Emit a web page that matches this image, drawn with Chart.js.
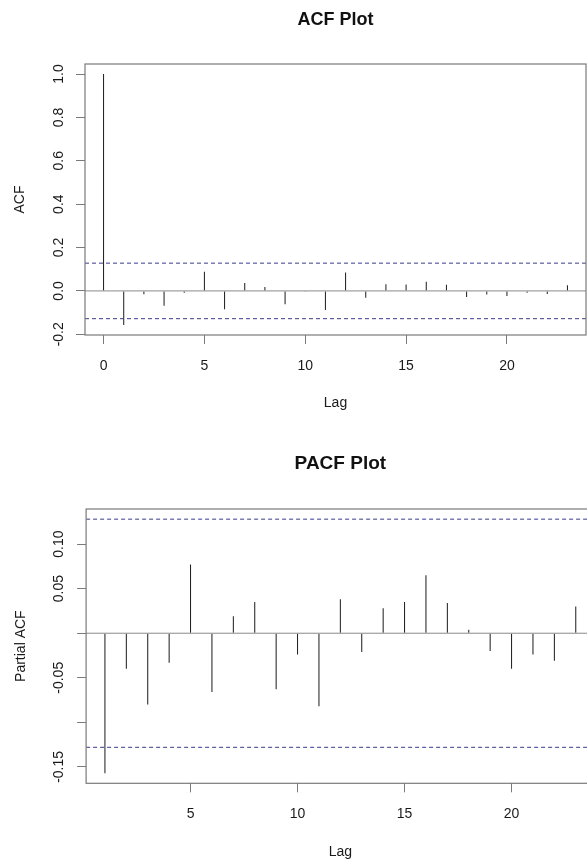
<!DOCTYPE html>
<html><head><meta charset="utf-8">
<script src="https://cdn.jsdelivr.net/npm/chart.js@4.4.1/dist/chart.umd.min.js"></script>
<style>
html,body{margin:0;padding:0;background:#fff;overflow:hidden;width:587px;height:861px;}
#c1{position:absolute;left:0;top:0;}
#c2{position:absolute;left:0;top:430px;}
</style></head><body>
<canvas id="c1" width="587" height="430"></canvas>
<canvas id="c2" width="600" height="431"></canvas>
<script>
// ---- data ----
const acfLags = [0,1,2,3,4,5,6,7,8,9,10,11,12,13,14,15,16,17,18,19,20,21,22,23];
const acfValues = [1.000,-0.157,-0.015,-0.068,-0.009,0.088,-0.085,0.037,0.018,-0.062,-0.002,-0.088,0.085,-0.032,0.031,0.029,0.042,0.028,-0.028,-0.017,-0.023,-0.009,-0.014,0.026];
const pacfLags = [1,2,3,4,5,6,7,8,9,10,11,12,13,14,15,16,17,18,19,20,21,22,23];
const pacfValues = [-0.157,-0.040,-0.080,-0.033,0.077,-0.066,0.019,0.035,-0.063,-0.024,-0.082,0.038,-0.021,0.028,0.035,0.065,0.034,0.004,-0.020,-0.040,-0.024,-0.031,0.030];
const ciBound = 0.128;
const acfXTicks = [0,5,10,15,20];
const acfYTicks = [-0.2,0,0.2,0.4,0.6,0.8,1.0];
const acfYTickLabels = ['-0.2','0.0','0.2','0.4','0.6','0.8','1.0'];
const pacfXTicks = [5,10,15,20];
const pacfYTicks = [-0.15,-0.10,-0.05,0,0.05,0.10];
const pacfYTickLabels = ['-0.15','','-0.05','','0.05','0.10'];

const FONT = '"Liberation Sans", Arial, Helvetica, sans-serif';
const TEXT = '#1a1a1a';
const AXIS = '#7a7a7a';
const CI = '#3a3a8c';

function ext(a, b) { const d = (b - a) * 0.04; return [a - d, b + d]; }

function makePlot(canvas, s) {
  const xr = ext(Math.min(...s.lags), Math.max(...s.lags));
  const yr = ext(Math.min(-ciBound, ...s.values), Math.max(ciBound, ...s.values));
  const framePlugin = {
    id: 'rframe',
    afterDatasetsDraw(chart) {
      const {ctx, chartArea: a} = chart;
      const y = chart.scales.y;
      ctx.save();
      ctx.strokeStyle = AXIS; ctx.lineWidth = 1.2;
      ctx.strokeRect(a.left, a.top, a.right - a.left, a.bottom - a.top);
      ctx.fillStyle = TEXT;
      ctx.font = '14px ' + FONT;
      ctx.textAlign = 'center'; ctx.textBaseline = 'middle';
      s.yTicks.forEach((v, i) => {
        const lab = s.yLabels[i];
        if (!lab) return;
        ctx.save();
        ctx.translate(s.yLabelX, y.getPixelForValue(v));
        ctx.rotate(-Math.PI / 2);
        ctx.fillText(lab, 0, 0);
        ctx.restore();
      });
      ctx.restore();
    }
  };
  return new Chart(canvas, {
    type: 'bar',
    data: {
      datasets: [
        {type:'line', data:[{x:xr[0], y:ciBound},{x:xr[1], y:ciBound}], borderColor:CI, borderWidth:1, borderDash:[4,3], pointRadius:0, fill:false},
        {type:'line', data:[{x:xr[0], y:-ciBound},{x:xr[1], y:-ciBound}], borderColor:CI, borderWidth:1, borderDash:[4,3], pointRadius:0, fill:false},
        {type:'line', data:[{x:xr[0], y:0},{x:xr[1], y:0}], borderColor:'#8a8a8a', borderWidth:1, pointRadius:0, fill:false},
        {type:'bar', data:s.lags.map((l, i) => ({x:l, y:s.values[i]})), backgroundColor:'#1a1a1a', borderWidth:0, barThickness:1, inflateAmount:0, grouped:false}
      ]
    },
    options: {
      responsive:false, animation:false, devicePixelRatio:1,
      layout:{padding:{left:0, right:s.padRight, top:0, bottom:0}},
      plugins:{
        legend:{display:false}, tooltip:{enabled:false},
        title:{display:true, text:s.title, fullSize:false, color:'#111',
          font:{family:FONT, size:s.titleSize, weight:'bold'},
          padding:{top:s.titleTop, bottom:s.titleBottom}}
      },
      scales:{
        x:{
          type:'linear', min:xr[0], max:xr[1], bounds:'data', offset:false,
          afterBuildTicks: sc => { sc.ticks = s.xTicks.map(v => ({value:v})); },
          afterFit: sc => { sc.height = s.xAxisH; },
          grid:{display:true, offset:false, drawOnChartArea:false, drawTicks:true, tickLength:9, color:AXIS, lineWidth:1},
          border:{display:false},
          ticks:{font:{family:FONT, size:14}, color:TEXT, padding:13.8, maxRotation:0, minRotation:0, autoSkip:false, callback: v => String(v)},
          title:{display:true, text:'Lag', color:TEXT, font:{family:FONT, size:14}, padding:{top:0, bottom:s.lagPad}}
        },
        y:{
          type:'linear', min:yr[0], max:yr[1], bounds:'data',
          afterBuildTicks: sc => { sc.ticks = s.yTicks.map(v => ({value:v})); },
          afterFit: sc => { sc.width = s.yAxisW; },
          grid:{display:true, offset:false, drawOnChartArea:false, drawTicks:true, tickLength:9, color:AXIS, lineWidth:1},
          border:{display:false},
          ticks:{display:false},
          title:{display:true, text:s.yTitle, color:TEXT, font:{family:FONT, size:14}, padding:{top:s.yTitlePad, bottom:0}}
        }
      }
    },
    plugins:[framePlugin]
  });
}

makePlot(document.getElementById('c1'), {
  lags:acfLags, values:acfValues, xTicks:acfXTicks, yTicks:acfYTicks, yLabels:acfYTickLabels,
  title:'ACF Plot', titleSize:18, titleTop:9.2, titleBottom:33.2,
  yTitle:'ACF', yTitlePad:11.3, yLabelX:59, yAxisW:85, xAxisH:95, padRight:1, lagPad:18.2
});
makePlot(document.getElementById('c2'), {
  lags:pacfLags, values:pacfValues, xTicks:pacfXTicks, yTicks:pacfYTicks, yLabels:pacfYTickLabels,
  title:'PACF Plot', titleSize:19, titleTop:22.6, titleBottom:33.6,
  yTitle:'Partial ACF', yTitlePad:13.1, yLabelX:59, yAxisW:86.1, xAxisH:77.7, padRight:5.4, lagPad:0.9
});
</script>
</body></html>
